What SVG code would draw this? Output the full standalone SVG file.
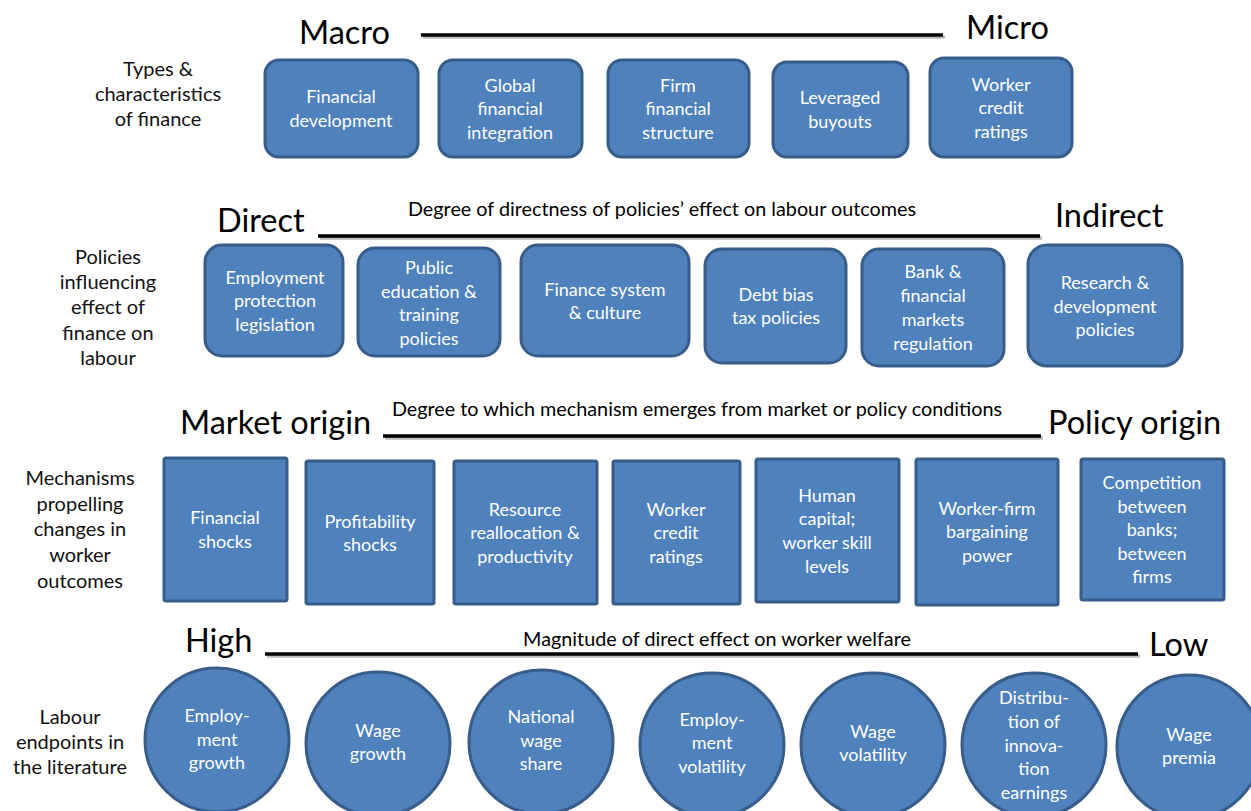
<svg xmlns="http://www.w3.org/2000/svg" width="1251" height="811" viewBox="0 0 1251 811">
<style>
.n{fill:#4f81bd;stroke:#385d8a;stroke-width:3}
.t{font-family:Lato,"Open Sans","Liberation Sans",sans-serif;font-size:18px;fill:#ffffff;text-anchor:middle}
.l{font-family:Lato,"Open Sans","Liberation Sans",sans-serif;font-size:20px;fill:#111111;text-anchor:middle}
.h{font-family:Lato,"Open Sans","Liberation Sans",sans-serif;font-size:32.5px;fill:#000000}
.s{font-family:Lato,"Open Sans","Liberation Sans",sans-serif;font-size:19.8px;fill:#000000;text-anchor:middle}
.ln{stroke:#000;stroke-width:3.5}
.sh{stroke:#bbbbbb;stroke-width:3.5}
</style>
<rect width="1251" height="811" fill="#ffffff"/>

<!-- row labels -->
<g id="labels">
<text class="l" x="158" y="76">Types &amp;</text>
<text class="l" x="158" y="101">characteristics</text>
<text class="l" x="158" y="126">of finance</text>
<text class="l" x="108" y="264">Policies</text>
<text class="l" x="108" y="289">influencing</text>
<text class="l" x="108" y="314">effect of</text>
<text class="l" x="108" y="340">finance on</text>
<text class="l" x="108" y="365">labour</text>
<text class="l" x="80" y="485">Mechanisms</text>
<text class="l" x="80" y="511">propelling</text>
<text class="l" x="80" y="536">changes in</text>
<text class="l" x="80" y="562">worker</text>
<text class="l" x="80" y="588">outcomes</text>
<text class="l" x="70" y="724">Labour</text>
<text class="l" x="70" y="749">endpoints in</text>
<text class="l" x="70" y="774">the literature</text>
</g>

<!-- scale axes -->
<g id="connectors">
<line class="sh" x1="423" y1="37" x2="945" y2="37"/>
<line class="ln" x1="421" y1="35" x2="943" y2="35"/>
<line class="sh" x1="320" y1="238" x2="1042" y2="238"/>
<line class="ln" x1="318" y1="236" x2="1040" y2="236"/>
<line class="sh" x1="385" y1="438" x2="1043" y2="438"/>
<line class="ln" x1="383" y1="436" x2="1041" y2="436"/>
<line class="sh" x1="267" y1="656" x2="1140" y2="656"/>
<line class="ln" x1="265" y1="654" x2="1138" y2="654"/>
</g>

<g id="axis-text">
<text class="h" x="299" y="44">Macro</text>
<text class="h" x="966" y="39">Micro</text>
<text class="h" x="217" y="232">Direct</text>
<text class="h" x="1055" y="227">Indirect</text>
<text class="s" x="662" y="216">Degree of directness of policies’ effect on labour outcomes</text>
<text class="h" x="180" y="434">Market origin</text>
<text class="h" x="1048" y="434">Policy origin</text>
<text class="s" x="697" y="416">Degree to which mechanism emerges from market or policy conditions</text>
<text class="h" x="185" y="652">High</text>
<text class="h" x="1149" y="656">Low</text>
<text class="s" x="717" y="646">Magnitude of direct effect on worker welfare</text>
</g>

<!-- Row 1 -->
<g id="r1-financial-development"><rect class="n" x="265" y="60" width="153" height="97" rx="14"/><text class="t" x="341" y="103">Financial</text><text class="t" x="341" y="127">development</text></g>
<g id="r1-global-financial-integration"><rect class="n" x="439" y="60" width="143" height="97" rx="14"/><text class="t" x="510" y="92">Global</text><text class="t" x="510" y="115">financial</text><text class="t" x="510" y="139">integration</text></g>
<g id="r1-firm-financial-structure"><rect class="n" x="608" y="60" width="141" height="97" rx="14"/><text class="t" x="678" y="92">Firm</text><text class="t" x="678" y="115">financial</text><text class="t" x="678" y="139">structure</text></g>
<g id="r1-leveraged-buyouts"><rect class="n" x="773" y="62" width="135" height="95" rx="14"/><text class="t" x="840" y="104">Leveraged</text><text class="t" x="840" y="128">buyouts</text></g>
<g id="r1-worker-credit-ratings"><rect class="n" x="930" y="58" width="142" height="99" rx="14"/><text class="t" x="1001" y="91">Worker</text><text class="t" x="1001" y="114">credit</text><text class="t" x="1001" y="138">ratings</text></g>

<!-- Row 2 -->
<g id="r2-epl"><rect class="n" x="205" y="245" width="138" height="111" rx="17"/><text class="t" x="275" y="284">Employment</text><text class="t" x="275" y="307">protection</text><text class="t" x="275" y="331">legislation</text></g>
<g id="r2-education"><rect class="n" x="358" y="248" width="142" height="108" rx="17"/><text class="t" x="429" y="274">Public</text><text class="t" x="429" y="298">education &amp;</text><text class="t" x="429" y="321">training</text><text class="t" x="429" y="345">policies</text></g>
<g id="r2-finance-system"><rect class="n" x="521" y="245" width="168" height="111" rx="17"/><text class="t" x="605" y="296">Finance system</text><text class="t" x="605" y="319">&amp; culture</text></g>
<g id="r2-debt-bias"><rect class="n" x="705" y="249" width="141" height="114" rx="17"/><text class="t" x="776" y="301">Debt bias</text><text class="t" x="776" y="324">tax policies</text></g>
<g id="r2-bank-regulation"><rect class="n" x="862" y="249" width="142" height="117" rx="17"/><text class="t" x="933" y="278">Bank &amp;</text><text class="t" x="933" y="302">financial</text><text class="t" x="933" y="326">markets</text><text class="t" x="933" y="350">regulation</text></g>
<g id="r2-rd-policies"><rect class="n" x="1028" y="245" width="154" height="121" rx="19"/><text class="t" x="1105" y="289">Research &amp;</text><text class="t" x="1105" y="313">development</text><text class="t" x="1105" y="336">policies</text></g>

<!-- Row 3 -->
<g id="r3-financial-shocks"><rect class="n" x="164" y="458" width="123" height="143" rx="2"/><text class="t" x="225" y="524">Financial</text><text class="t" x="225" y="548">shocks</text></g>
<g id="r3-profitability-shocks"><rect class="n" x="306" y="461" width="128" height="143" rx="2"/><text class="t" x="370" y="528">Profitability</text><text class="t" x="370" y="551">shocks</text></g>
<g id="r3-resource-reallocation"><rect class="n" x="454" y="461" width="143" height="143" rx="2"/><text class="t" x="525" y="516">Resource</text><text class="t" x="525" y="539">reallocation &amp;</text><text class="t" x="525" y="563">productivity</text></g>
<g id="r3-worker-credit-ratings"><rect class="n" x="613" y="461" width="127" height="143" rx="2"/><text class="t" x="676" y="516">Worker</text><text class="t" x="676" y="539">credit</text><text class="t" x="676" y="563">ratings</text></g>
<g id="r3-human-capital"><rect class="n" x="756" y="459" width="143" height="143" rx="2"/><text class="t" x="827" y="502">Human</text><text class="t" x="827" y="525">capital;</text><text class="t" x="827" y="549">worker skill</text><text class="t" x="827" y="573">levels</text></g>
<g id="r3-bargaining-power"><rect class="n" x="916" y="459" width="142" height="146" rx="2"/><text class="t" x="987" y="515">Worker-firm</text><text class="t" x="987" y="538">bargaining</text><text class="t" x="987" y="562">power</text></g>
<g id="r3-competition"><rect class="n" x="1081" y="459" width="143" height="141" rx="2"/><text class="t" x="1152" y="489">Competition</text><text class="t" x="1152" y="513">between</text><text class="t" x="1152" y="536">banks;</text><text class="t" x="1152" y="560">between</text><text class="t" x="1152" y="583">firms</text></g>

<!-- Row 4 -->
<g id="r4-employment-growth"><circle class="n" cx="217" cy="740" r="72"/><text class="t" x="217" y="722">Employ-</text><text class="t" x="217" y="746">ment</text><text class="t" x="217" y="769">growth</text></g>
<g id="r4-wage-growth"><circle class="n" cx="378" cy="744" r="72"/><text class="t" x="378" y="737">Wage</text><text class="t" x="378" y="760">growth</text></g>
<g id="r4-national-wage-share"><circle class="n" cx="541" cy="742" r="72"/><text class="t" x="541" y="723">National</text><text class="t" x="541" y="747">wage</text><text class="t" x="541" y="770">share</text></g>
<g id="r4-employment-volatility"><circle class="n" cx="712" cy="745" r="72"/><text class="t" x="712" y="726">Employ-</text><text class="t" x="712" y="749">ment</text><text class="t" x="712" y="773">volatility</text></g>
<g id="r4-wage-volatility"><circle class="n" cx="873" cy="745" r="72"/><text class="t" x="873" y="738">Wage</text><text class="t" x="873" y="761">volatility</text></g>
<g id="r4-innovation-earnings"><circle class="n" cx="1034" cy="745" r="72"/><text class="t" x="1034" y="704">Distribu-</text><text class="t" x="1034" y="728">tion of</text><text class="t" x="1034" y="752">innova-</text><text class="t" x="1034" y="775">tion</text><text class="t" x="1034" y="799">earnings</text></g>
<g id="r4-wage-premia"><circle class="n" cx="1189" cy="747" r="72"/><text class="t" x="1189" y="741">Wage</text><text class="t" x="1189" y="764">premia</text></g>
</svg>
